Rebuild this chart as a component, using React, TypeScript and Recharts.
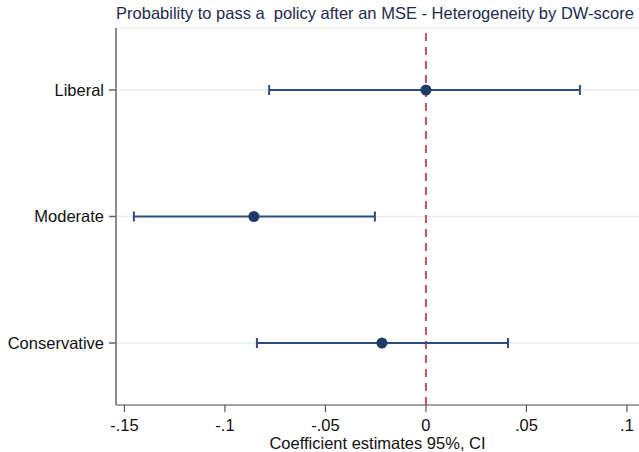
import React from 'react'
import {
  ScatterChart,
  Scatter,
  XAxis,
  YAxis,
  CartesianGrid,
  ErrorBar,
  ReferenceLine,
  Label,
} from 'recharts'

const categories = ['Liberal', 'Moderate', 'Conservative']
const estimates = [0, -0.0856, -0.0219]
const ciLower = [-0.078, -0.1453, -0.0841]
const ciUpper = [0.0766, -0.0254, 0.0408]
const xTicks = [-0.15, -0.1, -0.05, 0, 0.05, 0.1]

const data = categories.map((c, i) => ({
  name: c,
  x: estimates[i],
  y: i + 1,
  err: [estimates[i] - ciLower[i], ciUpper[i] - estimates[i]],
}))

const fmt = (v: number) => (v === 0 ? '0' : String(v).replace('0.', '.'))

const font = '"Liberation Sans", Arial, sans-serif'
const navy = '#2c4d7d'

const Dot = (props: any) => (
  <circle cx={props.cx} cy={props.cy} r={5.5} fill="#1f3c68" />
)

export default function App() {
  return (
    <div style={{ position: 'absolute', left: 0, top: 0, width: 639, height: 452, fontFamily: font }}>
      <div
        style={{
          position: 'absolute',
          top: 4,
          left: 112,
          width: 526,
          textAlign: 'center',
          fontSize: 16.5,
          color: '#1e2b4d',
          whiteSpace: 'pre',
          zIndex: 1,
        }}
      >
        Probability to pass a  policy after an MSE - Heterogeneity by DW-score
      </div>
      <ScatterChart
        width={639}
        height={452}
        margin={{ top: 28, right: 0, bottom: 0, left: 0 }}
        style={{ fontFamily: font }}
      >
        <CartesianGrid vertical={false} stroke="#e9eff1" strokeWidth={1.5} />
        <XAxis
          type="number"
          dataKey="x"
          domain={[-0.1542, 0.106]}
          ticks={xTicks}
          tickFormatter={fmt}
          allowDataOverflow
          height={47}
          stroke="#555"
          strokeWidth={1.2}
          tickSize={7}
          tickMargin={7}
          tick={{ fill: '#111', fontSize: 16.5 }}
        >
          <Label
            value="Coefficient estimates 95%, CI"
            position="insideBottom"
            offset={3}
            style={{ fill: '#111', fontSize: 16.5 }}
          />
        </XAxis>
        <YAxis
          type="number"
          dataKey="y"
          domain={[0.51, 3.49]}
          reversed
          ticks={[1, 2, 3]}
          tickFormatter={(v: number) => categories[v - 1]}
          allowDataOverflow
          width={116}
          stroke="#666"
          strokeWidth={1.5}
          tickSize={7}
          tickMargin={5}
          tick={{ fill: '#111', fontSize: 16.5 }}
        />
        <ReferenceLine
          x={0}
          stroke="#c8505e"
          strokeWidth={2}
          strokeDasharray="8 6"
        />
        <Scatter data={data} shape={Dot} isAnimationActive={false}>
          <ErrorBar
            dataKey="err"
            direction="x"
            width={5}
            stroke={navy}
            strokeWidth={2}
          />
        </Scatter>
      </ScatterChart>
    </div>
  )
}
